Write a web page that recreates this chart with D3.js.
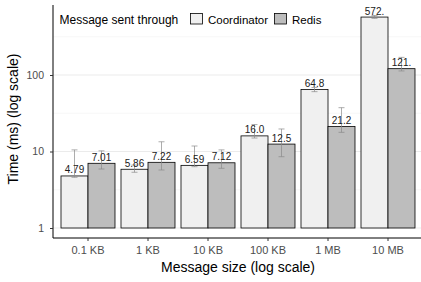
<!DOCTYPE html>
<html>
<head>
<meta charset="utf-8">
<script src="https://cdn.jsdelivr.net/npm/d3@7"></script>
<style>
  body { margin: 0; background: #fff; }
  text { font-family: "Liberation Sans", Arial, sans-serif; }
</style>
</head>
<body>
<div id="chart"></div>
<script>
/* Message latency by size, coordinator vs redis, on a log scale. */

let sizes = ["0.1 KB", "1 KB", "10 KB", "100 KB", "1 MB", "10 MB"];
let series = ["Coordinator", "Redis"];

/* Mean times (ms) and the low / high ends of the error bars. */
let coordMean = [4.79, 5.86, 6.59, 16.0, 64.8, 572];
let coordLow  = [4.6, 5.35, 6.33, 15.0, 60.6, 550];
let coordHigh = [10.5, 6.66, 11.8, 22.5, 68.7, 600];
let redisMean = [7.01, 7.22, 7.12, 12.5, 21.2, 121];
let redisLow  = [5.9, 5.73, 6.03, 8.55, 17.8, 113];
let redisHigh = [10.2, 13.4, 10.5, 19.7, 37.4, 170];

let yTicks = [1, 10, 100];
let yMinor = [Math.sqrt(10), Math.sqrt(1000), Math.sqrt(100000)];

let fills = {"Coordinator": "#f0f0f0", "Redis": "#bdbdbd"};

let width = 421, height = 282;
let margins = {left: 53, top: 5, right: 0, bottom: 44};

let svg = d3.select("#chart").append("svg")
    .attr("width", width)
    .attr("height", height);

/* Build one row per bar from the arrays above. */
let rows = [];
sizes.forEach(function(s, i) {
    rows.push({size: s, key: "Coordinator", v: coordMean[i], lo: coordLow[i], hi: coordHigh[i]});
    rows.push({size: s, key: "Redis", v: redisMean[i], lo: redisLow[i], hi: redisHigh[i]});
});

let xscale = d3.scaleBand()
    .domain(sizes)
    .range([margins.left - 1, margins.left - 1 + 60 * 6.2])
    .paddingInner(0)
    .paddingOuter(0.1);
let inner = d3.scaleBand()
    .domain(series)
    .range([xscale.bandwidth() * 0.05, xscale.bandwidth() * 0.95]);

let yBottom = height - margins.bottom;
let yscale = d3.scaleLog()
    .domain([Math.pow(10, -10 / 76.5), Math.pow(10, 223 / 76.5)])
    .range([yBottom, margins.top]);

/* Grid lines: minor ones at log midpoints, major ones at the ticks. */
svg.append("g").selectAll("line")
    .data(yMinor)
    .enter().append("line")
    .attr("x1", margins.left).attr("x2", width)
    .attr("y1", d => yscale(d)).attr("y2", d => yscale(d))
    .attr("stroke", "#f2f2f2").attr("stroke-width", 0.6);
svg.append("g").selectAll("line")
    .data(yTicks)
    .enter().append("line")
    .attr("x1", margins.left).attr("x2", width)
    .attr("y1", d => yscale(d)).attr("y2", d => yscale(d))
    .attr("stroke", "#e6e6e6").attr("stroke-width", 0.8);

/* Bars, starting from 1 ms. */
let base = yscale(1);
svg.append("g").selectAll("rect")
    .data(rows)
    .enter().append("rect")
    .attr("x", d => xscale(d.size) + inner(d.key))
    .attr("width", inner.bandwidth())
    .attr("y", d => yscale(d.v))
    .attr("height", d => base - yscale(d.v))
    .attr("fill", d => fills[d.key])
    .attr("stroke", "#000")
    .attr("stroke-width", 0.8);

/* Error bars. */
let eb = svg.append("g")
    .attr("stroke", "#8a8a8a")
    .attr("stroke-width", 0.7)
    .attr("fill", "none");
let cx = d => xscale(d.size) + inner(d.key) + inner.bandwidth() / 2;
eb.selectAll("path")
    .data(rows)
    .enter().append("path")
    .attr("d", function(d) {
        let x = cx(d), a = yscale(d.hi), b = yscale(d.lo);
        return "M" + (x - 3) + "," + a + "H" + (x + 3) +
               "M" + x + "," + a + "V" + b +
               "M" + (x - 3) + "," + b + "H" + (x + 3);
    });

/* Value labels, 3 significant digits the way R prints them. */
let fmt = function(v) {
    let s = d3.format(".3r")(v);
    return s.indexOf(".") < 0 ? s + "." : s;
};
svg.append("g").selectAll("text")
    .data(rows)
    .enter().append("text")
    .attr("x", cx)
    .attr("y", d => yscale(d.v) - 2.5)
    .attr("text-anchor", "middle")
    .attr("font-size", 10)
    .attr("fill", "#1a1a1a")
    .text(d => fmt(d.v));

/* Axes. */
let xaxis = d3.axisBottom(xscale).tickSize(3).tickSizeOuter(0);
let gx = svg.append("g")
    .attr("transform", "translate(0," + yBottom + ")")
    .call(xaxis);
gx.select(".domain").attr("d", "M" + margins.left + ",0H" + width).attr("stroke", "#000");
gx.selectAll(".tick line").attr("stroke", "#333");
gx.selectAll(".tick text").attr("font-size", 11).attr("fill", "#4d4d4d")
    .attr("font-family", "Liberation Sans, Arial, sans-serif")
    .attr("y", 16).attr("dy", null);

let yaxis = d3.axisLeft(yscale).tickValues(yTicks).tickFormat(d3.format("d"))
    .tickSize(3).tickSizeOuter(0);
let gy = svg.append("g")
    .attr("transform", "translate(" + margins.left + ",0)")
    .call(yaxis);
gy.select(".domain").attr("d", "M0," + margins.top + "V" + yBottom).attr("stroke", "#000");
gy.selectAll(".tick line").attr("stroke", "#333");
gy.selectAll(".tick text").attr("font-size", 10.5).attr("fill", "#4d4d4d")
    .attr("font-family", "Liberation Sans, Arial, sans-serif")
    .attr("x", -9);

/* Axis titles. */
svg.append("text")
    .attr("x", 238)
    .attr("y", 272)
    .attr("text-anchor", "middle")
    .attr("font-size", 14)
    .text("Message size (log scale)");
svg.append("text")
    .attr("transform", "translate(17.5,119) rotate(-90)")
    .attr("text-anchor", "middle")
    .attr("font-size", 14)
    .text("Time (ms) (log scale)");

/* Legend, inside the panel at the top. */
let legend = svg.append("g");
legend.append("text")
    .attr("x", 59.5).attr("y", 24)
    .attr("font-size", 12)
    .text("Message sent through");
let keyX = {"Coordinator": 190.5, "Redis": 274.5};
series.forEach(function(k) {
    legend.append("rect")
        .attr("x", keyX[k]).attr("y", 13.5)
        .attr("width", 12).attr("height", 10.5)
        .attr("fill", fills[k]).attr("stroke", "#000").attr("stroke-width", 0.8);
    legend.append("text")
        .attr("x", keyX[k] + 17.5).attr("y", 24)
        .attr("font-size", 11.5)
        .text(k);
});
</script>
</body>
</html>
